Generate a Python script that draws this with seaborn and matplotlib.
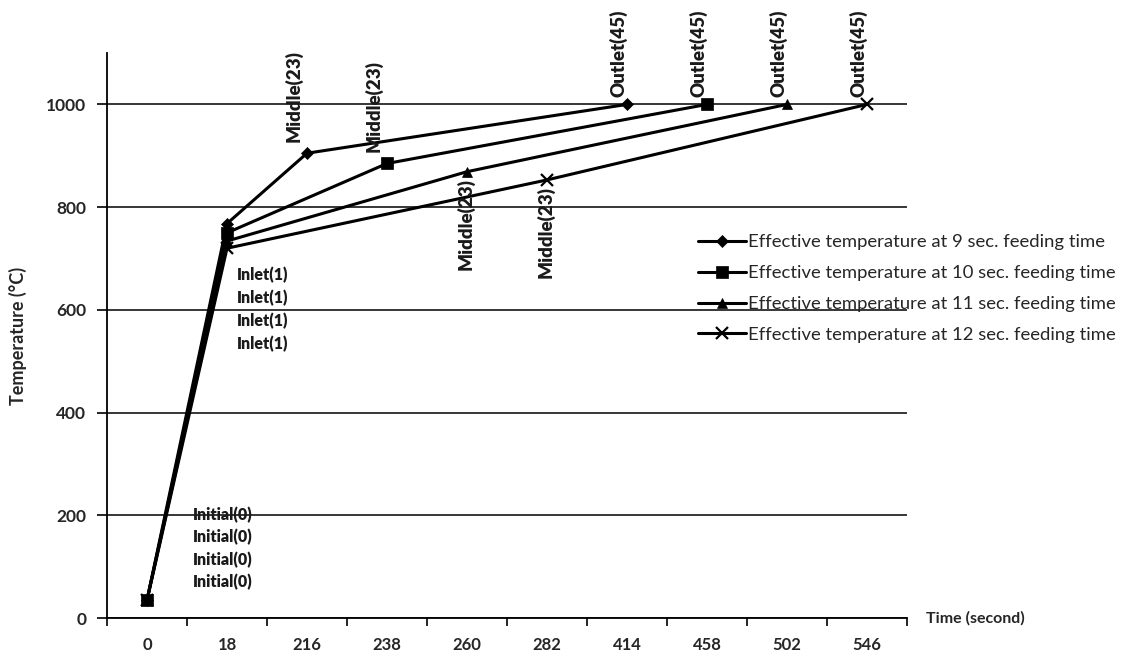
import matplotlib
matplotlib.use("Agg")
import matplotlib.pyplot as plt
import seaborn as sns
import pandas as pd

# Category axis (seconds)
time_ticks = [0, 18, 216, 238, 260, 282, 414, 458, 502, 546]

# Sampling times and effective temperatures for each feeding time
times_9 = [0, 18, 216, 414]
temps_9 = [35, 768, 905, 1000]
times_10 = [0, 18, 238, 458]
temps_10 = [35, 750, 885, 1000]
times_11 = [0, 18, 260, 502]
temps_11 = [35, 734, 869, 1000]
times_12 = [0, 18, 282, 546]
temps_12 = [35, 720, 853, 1000]

series_names = [
    "Effective temperature at 9 sec. feeding time",
    "Effective temperature at 10 sec. feeding time",
    "Effective temperature at 11 sec. feeding time",
    "Effective temperature at 12 sec. feeding time",
]
series_times = [times_9, times_10, times_11, times_12]
series_temps = [temps_9, temps_10, temps_11, temps_12]
series_markers = ["D", "s", "^", "x"]
marker_sizes = [6, 8, 7, 9]

# Position labels
point_labels = ["Initial(0)", "Inlet(1)", "Middle(23)", "Outlet(45)"]

sns.set_theme(style="white")
plt.rcParams["font.family"] = ["Lato", "DejaVu Sans"]

fig = plt.figure(figsize=(11.36, 6.6), dpi=100)
ax = fig.add_axes([0.0942, 0.0636, 0.7042, 0.856])

for name, ts, vals, mk, ms in zip(series_names, series_times, series_temps,
                                  series_markers, marker_sizes):
    df = pd.DataFrame({"pos": [time_ticks.index(t) for t in ts], "temp": vals})
    sns.lineplot(data=df, x="pos", y="temp", ax=ax, color="black", lw=2.2,
                 marker=mk, markersize=ms, markeredgecolor="black",
                 markeredgewidth=1.6 if mk == "x" else 0.5, label=name)

lab_kw = dict(fontsize=11.5, fontweight="heavy", color="#1a1a1a")
rot_kw = dict(fontsize=13.5, fontweight="heavy", color="#1a1a1a", rotation=90)

# Stacked labels for initial and inlet points
for k in range(4):
    ax.text(0.575, 200 - k * 43, point_labels[0], va="center", ha="left",
            **lab_kw)
    ax.text(1.125, 668 - k * 45, point_labels[1], va="center", ha="left",
            **lab_kw)

# Middle labels: above for the first two series, below for the last two
for k, (ts, vals) in enumerate(zip(series_times, series_temps)):
    pos = time_ticks.index(ts[2])
    if k < 2:
        ax.text(pos - 0.17, vals[2] + 22, point_labels[2], ha="center",
                va="bottom", **rot_kw)
    else:
        ax.text(pos - 0.02, vals[2] - 12, point_labels[2], ha="center",
                va="top", **rot_kw)
    pos_out = time_ticks.index(ts[3])
    ax.text(pos_out - 0.11, vals[3] + 15, point_labels[3], ha="center",
            va="bottom", **rot_kw)

ax.set_xlim(-0.5, 9.5)
ax.set_ylim(0, 1100)
ax.set_xticks(range(len(time_ticks)))
ax.set_xticklabels([str(t) for t in time_ticks], fontsize=12, fontweight="bold")
ax.set_xticks([i + 0.5 for i in range(-1, 10)], minor=True)
ax.set_yticks(range(0, 1001, 200))
ax.set_yticklabels([str(v) for v in range(0, 1001, 200)], fontsize=12.5,
                   fontweight="bold")
ax.tick_params(axis="x", which="major", length=0, pad=14)
ax.tick_params(axis="x", which="minor", length=6, width=1.2, color="black",
               direction="out", bottom=True)
ax.tick_params(axis="y", length=7, width=1.2, color="black", direction="out",
               left=True, pad=8)

ax.yaxis.grid(True, color="black", lw=1.1)
ax.set_axisbelow(True)
for side in ["top", "right"]:
    ax.spines[side].set_visible(False)
for side in ["left", "bottom"]:
    ax.spines[side].set_color("black")
    ax.spines[side].set_linewidth(1.3)

ax.set_xlabel("")
ax.set_ylabel("Temperature (°C)", fontsize=13, fontweight="bold",
              labelpad=14)
fig.text(0.815, 0.0636, "Time (second)", fontsize=11.5, fontweight="bold",
         va="center", ha="left")

ax.get_legend().remove()
fig.legend(*ax.get_legend_handles_labels(), loc="upper left",
           bbox_to_anchor=(0.6, 0.67), frameon=False, fontsize=13.3,
           handlelength=2.6, handletextpad=0.1, labelspacing=0.8)

fig.savefig("out.png", dpi=100, facecolor="white")
